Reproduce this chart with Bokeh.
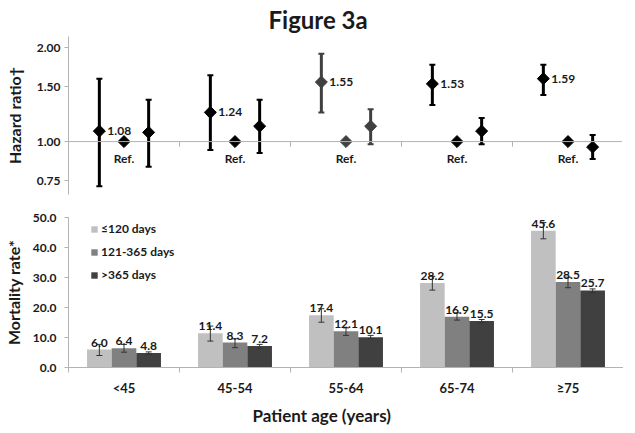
import numpy as np
from bokeh.plotting import figure
from bokeh.models import (Range1d, FixedTicker, ColumnDataSource, Span, Legend,
                          LegendItem, Title, PrintfTickFormatter)
from bokeh.layouts import column
from bokeh.embed import file_html
from bokeh.resources import INLINE
from bokeh.core.properties import value

# ---------------- data ----------------
categories = ["<45", "45-54", "55-64", "65-74", "≥75"]
series = ["≤120 days", "121-365 days", ">365 days"]

# hazard ratios (top panel)
hr_le120 = [1.08, 1.24, 1.55, 1.53, 1.59]
hr_le120_lo = [0.72, 0.94, 1.24, 1.31, 1.41]
hr_le120_hi = [1.59, 1.63, 1.91, 1.76, 1.76]
hr_ref = [1.0, 1.0, 1.0, 1.0, 1.0]
hr_gt365 = [1.07, 1.12, 1.12, 1.08, 0.96]
hr_gt365_lo = [0.83, 0.92, 0.98, 0.98, 0.88]
hr_gt365_hi = [1.36, 1.36, 1.27, 1.19, 1.05]

# mortality rates (bottom panel)
rate_le120 = [6.0, 11.4, 17.4, 28.2, 45.6]
rate_le120_lo = [4.0, 8.8, 15.1, 25.8, 42.9]
rate_le120_hi = [7.7, 13.8, 19.6, 30.4, 48.3]
rate_121 = [6.4, 8.3, 12.1, 16.9, 28.5]
rate_121_lo = [5.1, 6.6, 10.7, 15.8, 26.6]
rate_121_hi = [7.7, 9.6, 13.2, 18.2, 30.1]
rate_gt365 = [4.8, 7.2, 10.1, 15.5, 25.7]
rate_gt365_lo = [4.4, 6.3, 9.6, 14.9, 24.9]
rate_gt365_hi = [5.2, 7.7, 10.7, 16.0, 26.2]

hr_ticks = [0.75, 1.0, 1.5, 2.0]
rate_ticks = [0, 10, 20, 30, 40, 50]

# ---------------- styles ----------------
FONT = "Lato"
TXT = "#1a1a1a"
AXC = "#b3b3b3"
bar_colors = ["#c0c0c0", "#808080", "#404040"]
cat_marker_colors = ["#000000", "#000000", "#404040", "#000000", "#000000"]

n = len(categories)
centers = np.arange(n) + 0.5
bounds = np.arange(n + 1)
dx = 0.222
xr = Range1d(0, n)
FW = 555

# ---------------- top panel ----------------
p1 = figure(frame_width=FW, frame_height=158, x_range=xr,
            y_range=Range1d(0.677, 2.169), y_axis_type="log",
            output_backend="svg", toolbar_location=None,
            min_border_left=64, min_border_right=0, min_border_bottom=10,
            min_border_top=0)
p1.title.text = "Figure 3a"
p1.title.align = "left"
p1.title.offset = 200
p1.title.text_font = FONT
p1.title.text_font_size = "24px"
p1.title.text_font_style = "bold"
p1.title.text_color = TXT
p1.title.standoff = 5
p1.xaxis.visible = False
p1.grid.visible = False
p1.outline_line_color = None

ya = p1.yaxis[0]
ya.ticker = FixedTicker(ticks=hr_ticks)
ya.formatter = PrintfTickFormatter(format="%.2f")
ya.axis_label = "Hazard ratio†"

p1.add_layout(Span(location=1.0, dimension="width", line_color=AXC, line_width=1))
p1.segment(x0=bounds, y0=1.0, x1=bounds, y1=0.963, line_color=AXC, line_width=1)

def hr_series(xs, vals, lo, hi):
    src = ColumnDataSource(dict(x=xs, y=vals, lo=lo, hi=hi, c=cat_marker_colors))
    p1.segment(x0="x", y0="lo", x1="x", y1="hi", source=src, line_color="c", line_width=3)
    p1.scatter(x="x", y="lo", source=src, marker="dash", size=6, line_color="c", line_width=2)
    p1.scatter(x="x", y="hi", source=src, marker="dash", size=6, line_color="c", line_width=2)
    p1.scatter(x="x", y="y", source=src, marker="square", angle=np.pi / 4, size=8.5,
               fill_color="c", line_color="c")

hr_series(centers - dx, hr_le120, hr_le120_lo, hr_le120_hi)
hr_series(centers + dx, hr_gt365, hr_gt365_lo, hr_gt365_hi)
ref_src = ColumnDataSource(dict(x=centers, y=hr_ref, c=cat_marker_colors,
                                t=["Ref."] * n))
p1.scatter(x="x", y="y", source=ref_src, marker="square", angle=np.pi / 4, size=8.5,
           fill_color="c", line_color="c")
p1.text(x="x", y="y", text="t", source=ref_src, y_offset=17, text_align="center",
        text_baseline="middle", text_font=value(FONT), text_font_style="bold",
        text_font_size="12px", text_color=TXT)
p1.text(x=centers - dx, y=hr_le120, text=[f"{v:.2f}" for v in hr_le120], x_offset=8,
        text_align="left", text_baseline="middle", text_font=value(FONT),
        text_font_style="bold", text_font_size="12px", text_color=TXT)

# ---------------- bottom panel ----------------
p2 = figure(frame_width=FW, frame_height=150, x_range=xr, y_range=Range1d(0, 50),
            output_backend="svg", toolbar_location=None,
            min_border_left=64, min_border_right=0, min_border_top=13,
            min_border_bottom=0)
p2.grid.visible = False
p2.outline_line_color = None

yb = p2.yaxis[0]
yb.ticker = FixedTicker(ticks=rate_ticks)
yb.formatter = PrintfTickFormatter(format="%.1f")
yb.axis_label = "Mortality rate*"

xb = p2.xaxis[0]
xb.ticker = FixedTicker(ticks=list(centers), minor_ticks=list(bounds))
xb.major_label_overrides = {float(c): lab for c, lab in zip(centers, categories)}
xb.major_tick_line_color = None
xb.major_tick_out = 5
xb.minor_tick_out = 5
xb.minor_tick_in = 0
xb.minor_tick_line_color = AXC
xb.major_label_standoff = 7
xb.major_label_text_font_size = "13px"

p2.add_layout(Title(text="Patient age (years)", align="left", offset=184,
                    text_font=FONT, text_font_size="17px", text_font_style="bold",
                    text_color=TXT, standoff=8), "below")

for ax in [ya, yb]:
    ax.axis_line_color = AXC
    ax.major_tick_line_color = AXC
    ax.major_tick_out = 4
    ax.major_tick_in = 0
    ax.minor_tick_line_color = None
    ax.axis_label_text_font = FONT
    ax.axis_label_text_font_size = "16px"
    ax.axis_label_text_font_style = "bold"
    ax.axis_label_text_color = TXT
    ax.major_label_text_font_size = "12px"
ya.major_label_standoff = 4
ya.axis_label_standoff = 10
yb.major_label_standoff = 8
yb.axis_label_standoff = 7
for ax in [ya, yb, xb]:
    ax.major_label_text_font = FONT
    ax.major_label_text_font_style = "bold"
    ax.major_label_text_color = TXT
xb.axis_line_color = AXC

rates = [rate_le120, rate_121, rate_gt365]
los = [rate_le120_lo, rate_121_lo, rate_gt365_lo]
his = [rate_le120_hi, rate_121_hi, rate_gt365_hi]
items = []
for k, (vals, lo, hi) in enumerate(zip(rates, los, his)):
    xs = centers + (k - 1) * dx
    src = ColumnDataSource(dict(x=xs, top=vals, lo=lo, hi=hi,
                                t=[f"{v:.1f}" for v in vals]))
    r = p2.vbar(x="x", top="top", bottom=0, width=dx, source=src,
                fill_color=bar_colors[k], line_color=None)
    items.append(LegendItem(label=series[k], renderers=[r]))
    p2.segment(x0="x", y0="lo", x1="x", y1="hi", source=src, line_color="#333333",
               line_width=1)
    p2.scatter(x="x", y="lo", source=src, marker="dash", size=6, line_color="#333333",
               line_width=1)
    p2.scatter(x="x", y="hi", source=src, marker="dash", size=6, line_color="#333333",
               line_width=1)
    p2.text(x="x", y="top", text="t", source=src, y_offset=-3, text_align="center",
            text_baseline="bottom", text_font=value(FONT), text_font_style="bold",
            text_font_size="12px", text_color=TXT)

legend = Legend(items=items, location=(22, 85), orientation="vertical",
                background_fill_alpha=0, border_line_color=None, padding=0, margin=0,
                glyph_width=8, glyph_height=8, label_height=15, spacing=8,
                label_standoff=3, label_text_font=FONT, label_text_font_style="bold",
                label_text_font_size="12px", label_text_color=TXT)
p2.add_layout(legend)

layout = column(p1, p2, spacing=0)
open("out.html", "w").write(file_html(layout, INLINE))
